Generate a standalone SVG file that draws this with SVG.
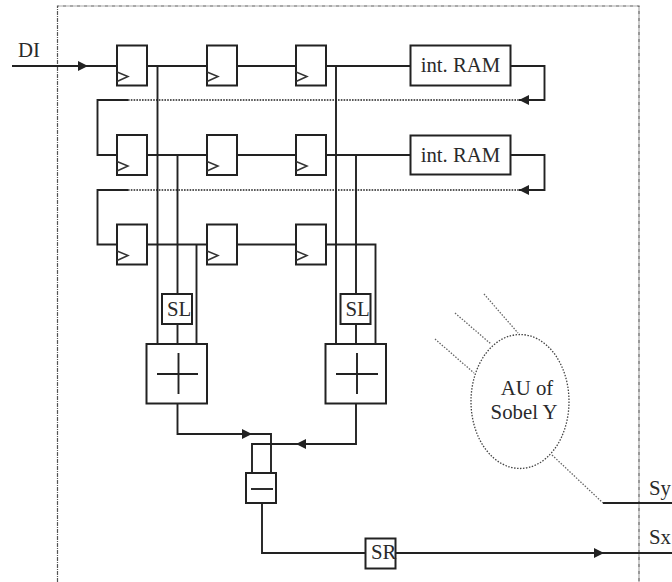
<svg xmlns="http://www.w3.org/2000/svg" width="672" height="582" viewBox="0 0 672 582">
<style>
.w{fill:none;stroke:#222;stroke-width:1.9}
.b{fill:#fff;stroke:#222;stroke-width:2}
.d{fill:none;stroke:#222;stroke-width:1.7;stroke-dasharray:1.6 1.2}
.g{fill:none;stroke:#666;stroke-width:1.3;stroke-dasharray:1.5 1.5}
.f{fill:none;stroke:#555;stroke-width:1.2;stroke-dasharray:4 1 1 1}
.c{fill:none;stroke:#333;stroke-width:1.5}
text{font-family:"Liberation Serif","Times New Roman",serif;font-size:20.800px;fill:#2a2a2a}
.m{text-anchor:middle}
</style>
<defs>
<marker id="a" markerUnits="userSpaceOnUse" markerWidth="10" markerHeight="12" refX="10" refY="6" orient="auto"><path d="M0 1L10 6L0 11Z" fill="#222"/></marker>
<g id="ff"><rect class="b" x="0" y="0" width="30" height="40"/><path class="c" d="M0 26.500L11 31L0 36"/></g>
</defs>
<path class="f" d="M57.500 582V6H639V582"/>
<g id="connectors">
<path class="w" d="M12 66H88" marker-end="url(#a)"/>
<path class="w" d="M88 66H117M147 66H207M237 66H296M326 66H410"/>
<path class="w" d="M147 155H207M237 155H296M326 155H410"/>
<path class="w" d="M147 244.500H207M237 244.500H296M326 244.500H375.500V344"/>
<path class="w" d="M157.500 66V344M177.500 155V344M196.500 244.500V344"/>
<path class="w" d="M336 66V344M356 155V344"/>
<path class="w" d="M510 66H544.500V100H519" marker-end="url(#a)"/>
<path class="w" d="M510 155H544.500V190H519" marker-end="url(#a)"/>
<path class="d" d="M128 100H519M128 190H519"/>
<path class="w" d="M128 100H97.500V155H117M128 190H97.500V244.500H117"/>
<path class="w" d="M177.500 403.500V434H252" marker-end="url(#a)"/>
<path class="w" d="M252 434H271V473"/>
<path class="w" d="M356 403.500V444H296" marker-end="url(#a)"/>
<path class="w" d="M296 444H252V473"/>
<path class="w" d="M262 503V553H366M395 553H604" marker-end="url(#a)"/>
<path class="w" d="M604 553H672M603 503H672"/>
<path class="g" d="M484 294L518 333M455 313L491 344M435 339L474 373M552 455L603 503"/>
</g>
<g id="ff-1-1"><use href="#ff" x="117" y="45.500"/></g>
<g id="ff-1-2"><use href="#ff" x="207" y="45.500"/></g>
<g id="ff-1-3"><use href="#ff" x="296" y="45.500"/></g>
<g id="ff-2-1"><use href="#ff" x="117" y="135"/></g>
<g id="ff-2-2"><use href="#ff" x="207" y="135"/></g>
<g id="ff-2-3"><use href="#ff" x="296" y="135"/></g>
<g id="ff-3-1"><use href="#ff" x="117" y="224.500"/></g>
<g id="ff-3-2"><use href="#ff" x="207" y="224.500"/></g>
<g id="ff-3-3"><use href="#ff" x="296" y="224.500"/></g>
<g id="ram-1"><rect class="b" x="410.500" y="45.500" width="100" height="40"/><text class="m" x="460.500" y="72">int. RAM</text></g>
<g id="ram-2"><rect class="b" x="410.500" y="135.500" width="100" height="39"/><text class="m" x="460.500" y="162">int. RAM</text></g>
<g id="sl-1"><rect class="b" x="162" y="294" width="30" height="30"/><text x="167" y="316">SL</text></g>
<g id="sl-2"><rect class="b" x="340.500" y="294" width="30" height="30"/><text x="345.500" y="316">SL</text></g>
<g id="add-1"><rect class="b" x="146.500" y="344" width="60.500" height="59.500"/><path class="w" d="M157 374H198M178.500 353V394"/></g>
<g id="add-2"><rect class="b" x="325.500" y="344" width="60.500" height="59.500"/><path class="w" d="M336 374H378M357 353V394"/></g>
<g id="sub"><rect class="b" x="246" y="473" width="30" height="30"/><path class="w" d="M251 489H273"/></g>
<g id="sr"><rect class="b" x="365.500" y="538.500" width="30" height="30"/><text x="371" y="559">SR</text></g>
<g id="au"><ellipse cx="520" cy="401.500" rx="49" ry="67" fill="none" stroke="#444" stroke-width="1.3" stroke-dasharray="1.5 1.5"/><text class="m" x="527" y="395">AU of</text><text class="m" x="524" y="419">Sobel Y</text></g>
<text x="18" y="57">DI</text>
<text x="649" y="495">Sy</text>
<text x="649" y="544">Sx</text>
</svg>
